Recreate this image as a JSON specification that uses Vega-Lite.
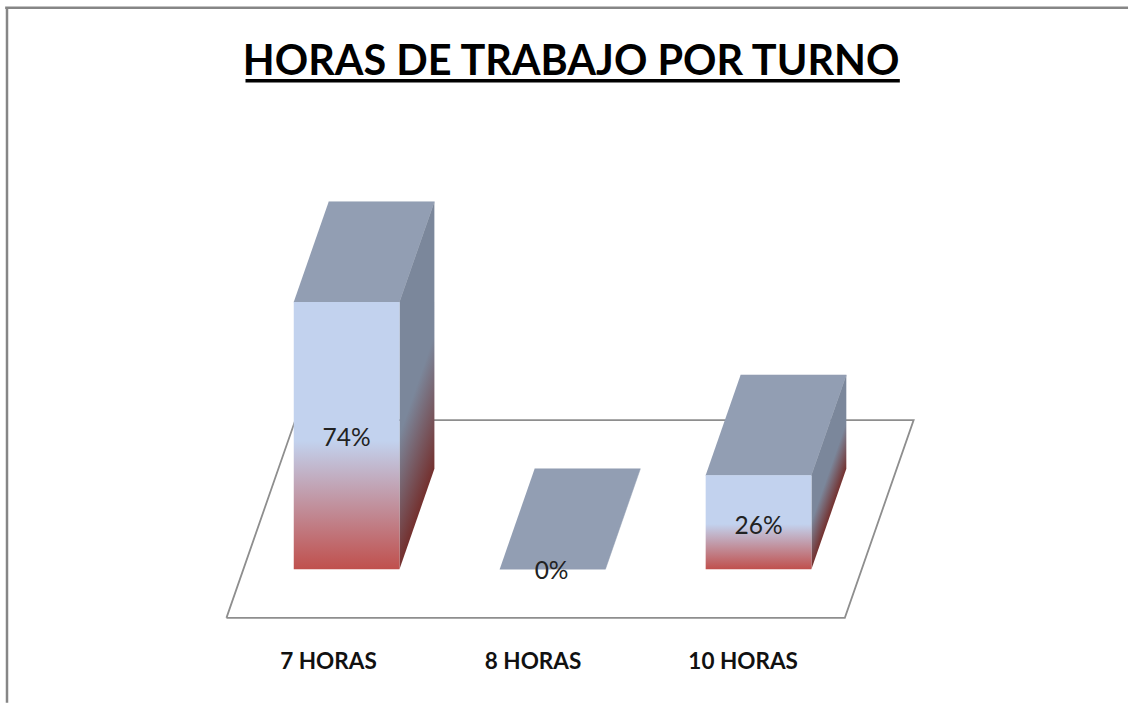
{
"$schema":"https://vega.github.io/schema/vega-lite/v6.json",
"width":1130,"height":704,"padding":0,"autosize":{"type":"fit","contains":"padding"},
"background":"white","config":{"view":{"stroke":null}},
"datasets":{
"floor":[{"pos":-0.5835,"pct":-13.5,"o":0},{"pos":2.419,"pct":-13.5,"o":1},{"pos":2.753,"pct":41.3,"o":2},{"pos":-0.249,"pct":41.3,"o":3},{"pos":-0.5835,"pct":-13.5,"o":4}],
"tops":[
{"cat":"7 HORAS","pos":-0.2567,"pct":74,"o":0},{"cat":"7 HORAS","pos":0.2567,"pct":74,"o":1},{"cat":"7 HORAS","pos":0.4262,"pct":101.8,"o":2},{"cat":"7 HORAS","pos":-0.0872,"pct":101.8,"o":3},
{"cat":"8 HORAS","pos":0.7433,"pct":0,"o":0},{"cat":"8 HORAS","pos":1.2567,"pct":0,"o":1},{"cat":"8 HORAS","pos":1.4262,"pct":27.8,"o":2},{"cat":"8 HORAS","pos":0.9128,"pct":27.8,"o":3},
{"cat":"10 HORAS","pos":1.7433,"pct":26,"o":0},{"cat":"10 HORAS","pos":2.2567,"pct":26,"o":1},{"cat":"10 HORAS","pos":2.4262,"pct":53.8,"o":2},{"cat":"10 HORAS","pos":1.9128,"pct":53.8,"o":3}],
"side7":[{"pos":0.2567,"pct":74,"o":0},{"pos":0.4262,"pct":101.8,"o":1},{"pos":0.4262,"pct":27.8,"o":2},{"pos":0.2567,"pct":0,"o":3}],
"side10":[{"pos":2.2567,"pct":26,"o":0},{"pos":2.4262,"pct":53.8,"o":1},{"pos":2.4262,"pct":27.8,"o":2},{"pos":2.2567,"pct":0,"o":3}],
"bars":[{"cat":"7 HORAS","left":-0.2567,"right":0.2567,"value":74,"base":0,"label":"74%","labelPos":0,"labelPct":36.1},
{"cat":"8 HORAS","left":0.7433,"right":1.2567,"value":0,"base":0,"label":"0%","labelPos":0.995,"labelPct":-0.8},
{"cat":"10 HORAS","left":1.7433,"right":2.2567,"value":26,"base":0,"label":"26%","labelPos":2,"labelPct":11.8}],
"cats":[{"cat":"7 HORAS","pos":-0.088,"pct":-25.8},{"cat":"8 HORAS","pos":0.905,"pct":-25.8},{"cat":"10 HORAS","pos":1.925,"pct":-25.8}],
"frame":[{"x0":-1.649,"x1":-1.649,"y0":155.5,"y1":-37},{"x0":-1.658,"x1":3.794,"y0":155.5,"y1":155.5}],
"head":[{"text":"HORAS DE TRABAJO POR TURNO","pos":1.09,"pct":136.9,"x0":-0.491,"x1":2.686,"line":135.3}]
},
"encoding":{
"x":{"field":"pos","type":"quantitative","axis":null,"scale":{"domain":[-1.683,3.789],"nice":false,"zero":false}},
"y":{"field":"pct","type":"quantitative","axis":null,"scale":{"domain":[-35.98,157.68],"nice":false,"zero":false}}
},
"layer":[
{"data":{"name":"frame"},"mark":{"type":"rule","color":"#868686","strokeWidth":2.5},
 "encoding":{"x":{"field":"x0","type":"quantitative"},"x2":{"field":"x1"},"y":{"field":"y0","type":"quantitative"},"y2":{"field":"y1"}}},
{"data":{"name":"floor"},"mark":{"type":"line","color":"#8e8e8e","strokeWidth":1.8,"strokeJoin":"miter"},"encoding":{"order":{"field":"o"}}},
{"data":{"name":"tops"},"mark":{"type":"line","fill":"#929EB3","stroke":"#929EB3","strokeWidth":0.5},"encoding":{"detail":{"field":"cat"},"order":{"field":"o"}}},
{"data":{"name":"side7"},"mark":{"type":"line","strokeWidth":0,"fill":{"gradient":"linear","x1":0,"y1":0.27,"x2":0.185,"y2":0.949,"stops":[{"offset":0,"color":"#7B879B"},{"offset":0.5,"color":"#7B879B"},{"offset":1,"color":"#74302E"}]}},"encoding":{"order":{"field":"o"}}},
{"data":{"name":"side10"},"mark":{"type":"line","strokeWidth":0,"fill":{"gradient":"linear","x1":0,"y1":0.515,"x2":0.197,"y2":0.898,"stops":[{"offset":0,"color":"#7B879B"},{"offset":0.5,"color":"#7B879B"},{"offset":1,"color":"#74302E"}]}},"encoding":{"order":{"field":"o"}}},
{"data":{"name":"bars"},"transform":[{"filter":"datum.value > 0"}],"mark":{"type":"bar","fill":{"gradient":"linear","x1":0,"y1":0,"x2":0,"y2":1,"stops":[{"offset":0,"color":"#C2D2EE"},{"offset":0.52,"color":"#C2D2EE"},{"offset":1,"color":"#C0504D"}]}},
 "encoding":{"x":{"field":"left","type":"quantitative"},"x2":{"field":"right"},"y":{"field":"value","type":"quantitative"},"y2":{"field":"base"}}},
{"data":{"name":"bars"},"mark":{"type":"text","font":"Lato","fontSize":24.5,"color":"#222222","align":"center","baseline":"middle"},
 "encoding":{"x":{"field":"labelPos","type":"quantitative"},"y":{"field":"labelPct","type":"quantitative"},"text":{"field":"label"}}},
{"data":{"name":"cats"},"mark":{"type":"text","font":"Lato","fontWeight":"bold","fontSize":22.5,"color":"#111111","align":"center","baseline":"middle"},
 "encoding":{"text":{"field":"cat"}}},
{"data":{"name":"head"},"mark":{"type":"text","font":"Lato","fontWeight":"bold","fontSize":41.4,"color":"#000000","align":"center","baseline":"alphabetic"},
 "encoding":{"text":{"field":"text"}}},
{"data":{"name":"head"},"mark":{"type":"rule","color":"#000000","strokeWidth":3.5},
 "encoding":{"x":{"field":"x0","type":"quantitative"},"x2":{"field":"x1"},"y":{"field":"line","type":"quantitative"}}}
]
}
